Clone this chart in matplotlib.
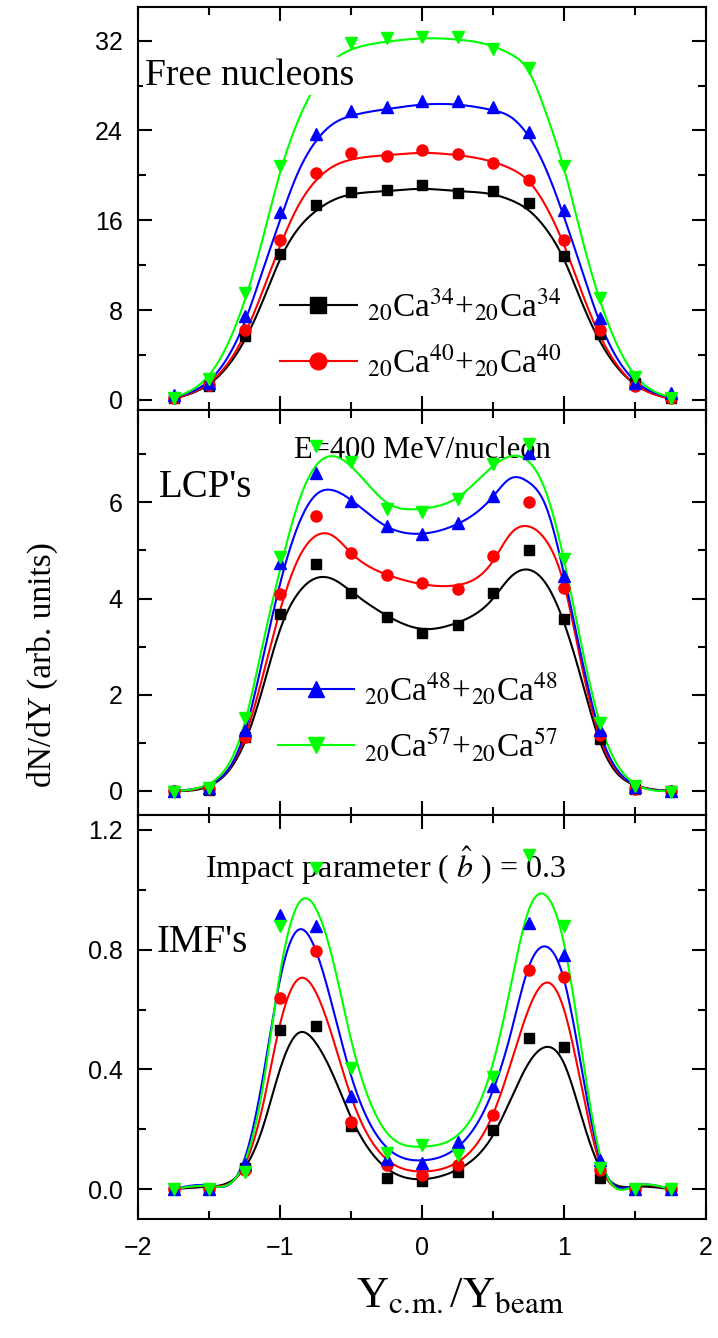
import numpy as np
import matplotlib
matplotlib.use('Agg')
import matplotlib.pyplot as plt
from matplotlib.lines import Line2D
from matplotlib.ticker import MultipleLocator

plt.rcParams['font.family'] = ['Liberation Serif', 'DejaVu Serif']
plt.rcParams['mathtext.fontset'] = 'stix'

# rapidity bins of the points
y_pts = [-1.75, -1.5, -1.25, -1.0, -0.75, -0.5, -0.25, 0.0, 0.25, 0.5, 0.75, 1.0, 1.25, 1.5, 1.75]
# knots of the drawn fit curves
y_fit = [-1.75, -1.5, -1.25, -1.125, -1.0, -0.875, -0.75, -0.625, -0.5, -0.25, 0.0,
         0.25, 0.5, 0.625, 0.75, 0.875, 1.0, 1.125, 1.25, 1.5, 1.75]

systems = ['34', '40', '48', '57']
colors = ['#000000', '#ff0000', '#0000ff', '#00ff00']
markers = ['s', 'o', '^', 'v']

# free nucleons
fn_pts = {
    '34': [0.15, 1.25, 5.7, 13.0, 17.4, 18.5, 18.7, 19.1, 18.4, 18.6, 17.5, 12.85, 5.9, 1.5, 0.15],
    '40': [0.15, 1.3, 6.2, 14.2, 20.2, 22.0, 21.7, 22.3, 21.9, 21.1, 19.6, 14.2, 6.2, 1.2, 0.15],
    '48': [0.4, 1.5, 7.5, 16.7, 23.7, 25.7, 26.1, 26.6, 26.6, 26.1, 23.9, 16.9, 7.3, 1.5, 0.6],
    '57': [0.15, 1.9, 9.5, 20.8, 29.5, 31.8, 32.2, 32.35, 32.3, 31.3, 29.6, 20.8, 9.1, 2.0, 0.15],
}
fn_fit = {
    '34': [0.1, 1.4, 5.3, 8.7, 12.5, 15.2, 16.8, 17.8, 18.3, 18.6, 18.8, 18.6, 18.3, 17.8, 16.9, 15.2, 12.5, 8.7, 5.3, 1.4, 0.1],
    '40': [0.1, 1.5, 5.8, 9.6, 13.7, 17.2, 19.5, 20.8, 21.4, 21.8, 22.0, 21.8, 21.2, 20.6, 19.5, 17.2, 13.8, 9.6, 5.8, 1.4, 0.1],
    '48': [0.2, 1.7, 6.9, 11.4, 16.0, 20.2, 23.0, 24.6, 25.3, 25.9, 26.3, 26.3, 25.8, 25.2, 23.5, 20.5, 16.3, 11.6, 7.0, 1.7, 0.2],
    '57': [0.2, 2.2, 8.8, 14.2, 20.2, 24.8, 28.0, 30.2, 31.2, 31.9, 32.2, 32.1, 31.5, 30.8, 29.3, 25.5, 20.6, 14.5, 9.0, 2.2, 0.2],
}

# light charged particles
lcp_pts = {
    '34': [0.0, 0.03, 1.12, 3.67, 4.71, 4.12, 3.62, 3.29, 3.45, 4.11, 5.01, 3.57, 1.07, 0.05, 0.0],
    '40': [0.0, 0.05, 1.13, 4.09, 5.72, 4.94, 4.5, 4.32, 4.19, 4.89, 6.01, 4.21, 1.16, 0.05, 0.0],
    '48': [0.0, 0.07, 1.27, 4.73, 6.6, 6.03, 5.5, 5.34, 5.58, 6.13, 7.02, 4.46, 1.27, 0.09, 0.0],
    '57': [-0.03, 0.07, 1.51, 4.86, 7.17, 6.83, 5.86, 5.79, 6.07, 6.79, 7.21, 4.82, 1.41, 0.1, -0.03],
}
lcp_fit = {
    '34': [0.0, 0.1, 1.0, 2.1, 3.35, 4.1, 4.42, 4.4, 4.15, 3.65, 3.37, 3.5, 4.0, 4.45, 4.6, 4.3, 3.5, 2.3, 1.05, 0.12, 0.0],
    '40': [0.0, 0.12, 1.1, 2.35, 3.75, 4.8, 5.3, 5.3, 4.95, 4.5, 4.3, 4.28, 4.78, 5.35, 5.5, 5.2, 4.3, 2.6, 1.15, 0.13, 0.0],
    '48': [0.0, 0.13, 1.2, 2.7, 4.3, 5.5, 6.15, 6.25, 6.05, 5.5, 5.35, 5.55, 6.12, 6.5, 6.42, 5.9, 4.5, 2.75, 1.25, 0.13, 0.0],
    '57': [0.0, 0.15, 1.4, 3.0, 4.6, 5.95, 6.75, 6.96, 6.75, 6.0, 5.87, 6.1, 6.75, 6.96, 6.85, 6.2, 4.8, 3.0, 1.45, 0.15, 0.0],
}

# intermediate mass fragments
imf_pts = {
    '34': [0.0, 0.0, 0.07, 0.53, 0.545, 0.21, 0.037, 0.028, 0.056, 0.198, 0.504, 0.476, 0.037, 0.0, 0.0],
    '40': [0.0, 0.0, 0.065, 0.64, 0.794, 0.223, 0.081, 0.048, 0.081, 0.248, 0.733, 0.71, 0.065, 0.0, 0.0],
    '48': [0.0, 0.0, 0.083, 0.916, 0.88, 0.312, 0.1, 0.087, 0.156, 0.345, 0.89, 0.783, 0.098, 0.0, 0.0],
    '57': [0.0, 0.0, 0.056, 0.88, 1.072, 0.404, 0.12, 0.148, 0.115, 0.376, 1.117, 0.88, 0.07, 0.0, 0.0],
}
imf_fit = {
    '34': [0.0, 0.008, 0.07, 0.2, 0.40, 0.52, 0.49, 0.38, 0.24, 0.07, 0.033, 0.065, 0.18, 0.30, 0.42, 0.475, 0.42, 0.24, 0.075, 0.008, 0.0],
    '40': [0.0, 0.01, 0.08, 0.27, 0.55, 0.70, 0.66, 0.50, 0.31, 0.10, 0.059, 0.09, 0.25, 0.42, 0.60, 0.69, 0.60, 0.34, 0.09, 0.01, 0.0],
    '48': [0.0, 0.012, 0.1, 0.36, 0.70, 0.865, 0.80, 0.60, 0.38, 0.14, 0.096, 0.14, 0.33, 0.52, 0.74, 0.81, 0.70, 0.40, 0.11, 0.012, 0.0],
    '57': [0.0, 0.01, 0.09, 0.33, 0.72, 0.95, 0.94, 0.76, 0.50, 0.19, 0.142, 0.18, 0.42, 0.68, 0.93, 0.98, 0.82, 0.46, 0.12, 0.01, 0.0],
}


def smooth(xk, yk, n=500):
    # natural cubic spline through the curve knots
    xk = np.asarray(xk, float)
    yk = np.asarray(yk, float)
    h = np.diff(xk)
    m = len(xk)
    A = np.zeros((m, m))
    r = np.zeros(m)
    A[0, 0] = A[-1, -1] = 1
    for i in range(1, m - 1):
        A[i, i - 1] = h[i - 1]
        A[i, i] = 2 * (h[i - 1] + h[i])
        A[i, i + 1] = h[i]
        r[i] = 6 * ((yk[i + 1] - yk[i]) / h[i] - (yk[i] - yk[i - 1]) / h[i - 1])
    M = np.linalg.solve(A, r)
    xs = np.linspace(xk[0], xk[-1], n)
    idx = np.clip(np.searchsorted(xk, xs) - 1, 0, m - 2)
    x0, x1 = xk[idx], xk[idx + 1]
    hh = x1 - x0
    a = (x1 - xs) / hh
    b = (xs - x0) / hh
    ys = a * yk[idx] + b * yk[idx + 1] + ((a**3 - a) * M[idx] + (b**3 - b) * M[idx + 1]) * hh**2 / 6
    return xs, ys


def label(A):
    return r'$_{20}$Ca$^{%s}$+$_{20}$Ca$^{%s}$' % (A, A)


fig = plt.figure(figsize=(7.18, 13.38), dpi=100)
left, width = 138 / 718, 568 / 718
H = 1338
ax1 = fig.add_axes([left, 1 - 410 / H, width, 403 / H])
ax2 = fig.add_axes([left, 1 - 815 / H, width, 405 / H])
ax3 = fig.add_axes([left, 1 - 1219 / H, width, 404 / H])

panels = [(ax1, fn_pts, fn_fit), (ax2, lcp_pts, lcp_fit), (ax3, imf_pts, imf_fit)]
msizes = {'s': 7, 'o': 8, '^': 8.5, 'v': 8.5}
for ax, pts, fit in panels:
    for A, c, mk in zip(systems, colors, markers):
        xs, ys = smooth(y_fit, fit[A])
        ax.plot(xs, ys, color=c, lw=1.5, zorder=2)
        ax.plot(y_pts, pts[A], ls='none', marker=mk, color=c, ms=msizes[mk], mec=c, zorder=3)
    ax.set_xlim(-2, 2)
    ax.xaxis.set_major_locator(MultipleLocator(1))
    ax.xaxis.set_minor_locator(MultipleLocator(0.5))
    ax.tick_params(which='both', direction='in', top=True, right=True, width=1.5,
                   labelsize=18, labelfontfamily='Liberation Sans')
    ax.tick_params(which='major', length=10)
    ax.tick_params(which='minor', length=5.5)
    ax.tick_params(axis='y', pad=11)
    ax.tick_params(axis='x', pad=12)
    for s in ax.spines.values():
        s.set_linewidth(1.5)

ax1.set_ylim(-0.9, 35)
ax1.yaxis.set_major_locator(MultipleLocator(8))
ax1.yaxis.set_minor_locator(MultipleLocator(4))
ax2.set_ylim(-0.5, 7.92)
ax2.yaxis.set_major_locator(MultipleLocator(2))
ax2.yaxis.set_minor_locator(MultipleLocator(1))
ax3.set_ylim(-0.1, 1.25)
ax3.yaxis.set_major_locator(MultipleLocator(0.4))
ax3.yaxis.set_minor_locator(MultipleLocator(0.2))
ax3.yaxis.set_major_formatter(matplotlib.ticker.FormatStrFormatter('%.1f'))
ax1.tick_params(axis='x', labelbottom=False)
ax2.tick_params(axis='x', labelbottom=False)

# panel texts
ax1.text(0.012, 0.806, 'Free nucleons', transform=ax1.transAxes, fontsize=27,
         va='baseline', ha='left', zorder=5,
         bbox=dict(facecolor='white', edgecolor='none', pad=1))
ax2.text(0.037, 0.785, "LCP's", transform=ax2.transAxes, fontsize=28, va='baseline', ha='left')
ax2.text(0.50, 0.881, 'E=400 MeV/nucleon', transform=ax2.transAxes, fontsize=22,
         va='baseline', ha='center', zorder=1)
ax3.text(0.033, 0.661, "IMF's", transform=ax3.transAxes, fontsize=28, va='baseline', ha='left')
ax3.text(0.436, 0.844, r'Impact parameter ( $\hat{b}$ ) = 0.3', transform=ax3.transAxes,
         fontsize=23, va='baseline', ha='center', zorder=1)

# legends
def proxy(i):
    return Line2D([], [], color=colors[i], lw=1.5, marker=markers[i], ms=12, mec=colors[i])

leg_kw = dict(frameon=False, fontsize=24, handlelength=2.3, handletextpad=0.3,
              borderpad=0, borderaxespad=0, labelspacing=0.55, loc='center left')
ax1.legend([proxy(0), proxy(1)], [label('34'), label('40')],
           bbox_to_anchor=(0.25, 0.19), **leg_kw)
ax2.legend([proxy(2), proxy(3)], [label('48'), label('57')],
           bbox_to_anchor=(0.246, 0.241), **leg_kw)

fig.text(42 / 718, 1 - 665 / H, 'dN/dY (arb. units)', rotation=90, fontsize=24,
         ha='center', va='center')
fig.text(460 / 718, 1 - 1307 / H, r'Y$_{\mathrm{c.\!m.}}$/Y$_{\mathrm{beam}}$', fontsize=32,
         ha='center', va='baseline')

fig.savefig('out.png', dpi=100)
